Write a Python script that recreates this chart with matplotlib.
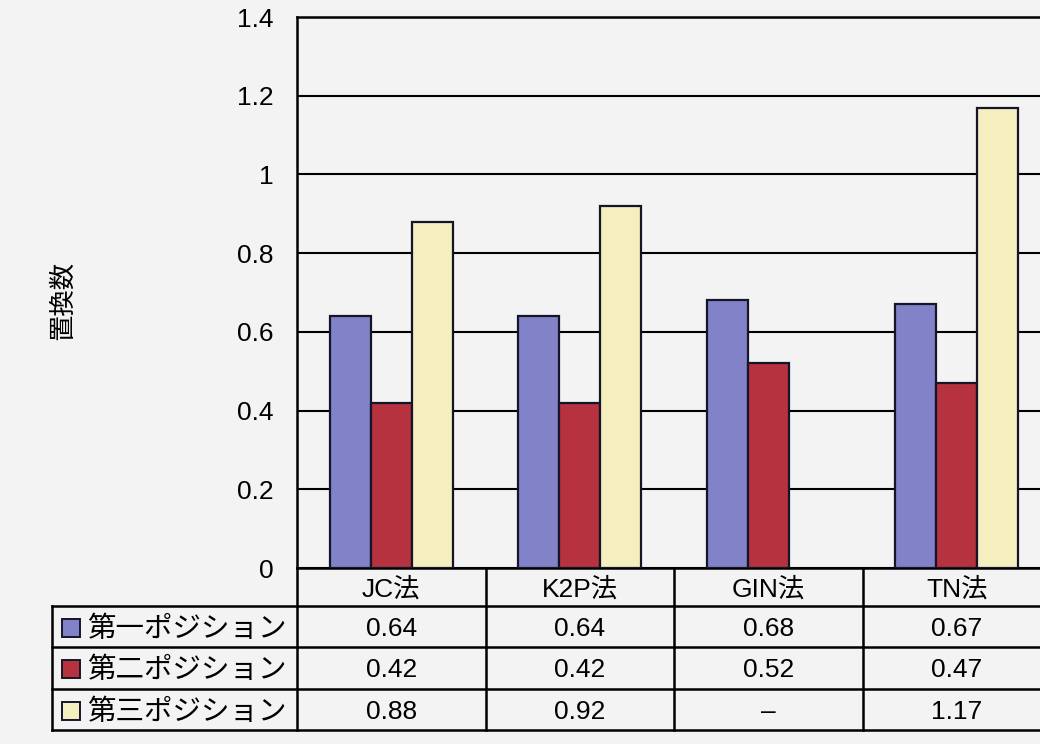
import numpy as np
import matplotlib
matplotlib.use("Agg")
import matplotlib.pyplot as plt
from matplotlib.patches import Rectangle

plt.rcParams['font.family'] = ['Liberation Sans', 'Noto Sans CJK JP', 'DejaVu Sans']

# --- data -------------------------------------------------------------
methods = ["JC法", "K2P法", "GIN法", "TN法"]
series_names = ["第一ポジション", "第二ポジション", "第三ポジション"]
pos1 = [0.64, 0.64, 0.68, 0.67]
pos2 = [0.42, 0.42, 0.52, 0.47]
pos3 = [0.88, 0.92, None, 1.17]
y_ticks = [0, 0.2, 0.4, 0.6, 0.8, 1, 1.2, 1.4]
y_label = "置換数"

colors = ["#8282c8", "#b5323e", "#f5eebf"]
edge = "#15152a"
bg = "#f3f3f3"
jp = ['Noto Sans CJK JP', 'DejaVu Sans']

W, H = 1040, 744
fig = plt.figure(figsize=(W / 100, H / 100), dpi=100, facecolor=bg)

# main plot area (extends slightly past the right edge of the canvas)
ax_l, ax_r, ax_t, ax_b = 297, 1051, 17, 568
ax = fig.add_axes([ax_l / W, 1 - ax_b / H, (ax_r - ax_l) / W, (ax_b - ax_t) / H])
ax.set_facecolor(bg)

series = [pos1, pos2, pos3]
x = np.arange(len(methods))
bw = 0.218
for i, vals in enumerate(series):
    xs = [xi + (i - 1) * bw for xi, v in zip(x, vals) if v is not None]
    hs = [v for v in vals if v is not None]
    ax.bar(xs, hs, width=bw, color=colors[i], edgecolor=edge, linewidth=1.6, zorder=3)

ax.set_xlim(-0.5, len(methods) - 0.5)
ax.set_ylim(0, 1.4)
ax.set_yticks(y_ticks)
ax.set_yticklabels([f"{t:g}" for t in y_ticks], fontsize=19)
ax.tick_params(axis='y', length=0, pad=17)
ax.set_xticks([])
ax.yaxis.grid(True, color="black", linewidth=1.5)
ax.set_axisbelow(True)
for s in ax.spines.values():
    s.set_color("black")
    s.set_linewidth(1.8)

fig.text(62 / W, 1 - 300 / H, y_label, rotation=90, ha='center', va='center',
         fontsize=19, family=jp)

# --- data table below the plot ---------------------------------------
tb_l, tb_b = 52, 730
rows = [568, 606, 647, 689, 730]
unit = (ax_r - ax_l) / len(methods)
left_units = (ax_l - tb_l) / unit
tax = fig.add_axes([tb_l / W, 1 - tb_b / H, (ax_r - tb_l) / W, (tb_b - ax_b) / H])
xl = -0.5 - left_units
xr = len(methods) - 0.5
tax.set_xlim(xl, xr)
tax.set_ylim(tb_b, ax_b)
tax.axis('off')
lw = 1.8
for r in rows[1:]:
    tax.plot([xl, xr], [r, r], color="black", lw=lw, clip_on=False, solid_capstyle='projecting')
tax.plot([xl, xl], [rows[1], rows[-1]], color="black", lw=lw, clip_on=False,
         solid_capstyle='projecting')
for b in np.arange(len(methods) + 1) - 0.5:
    tax.plot([b, b], [rows[0], rows[-1]], color="black", lw=lw, clip_on=False,
             solid_capstyle='projecting')

def mid(k):
    return (rows[k] + rows[k + 1]) / 2 + 2

for j, m in enumerate(methods):
    tax.text(j, mid(0), m, ha='center', va='center', fontsize=19)

sq_w = 18 / unit
for i, (name, vals) in enumerate(zip(series_names, series)):
    yc = mid(i + 1)
    tax.add_patch(Rectangle((xl + 10 / unit, yc - 10), sq_w, 18,
                            facecolor=colors[i], edgecolor=edge, lw=1.4, clip_on=False))
    tax.text(xl + 35 / unit, yc, name, ha='left', va='center', fontsize=20.5, family=jp)
    for j, v in enumerate(vals):
        txt = f"{v:.2f}" if v is not None else "–"
        tax.text(j, yc, txt, ha='center', va='center', fontsize=19)

fig.savefig("out.png", dpi=100, facecolor=bg)
